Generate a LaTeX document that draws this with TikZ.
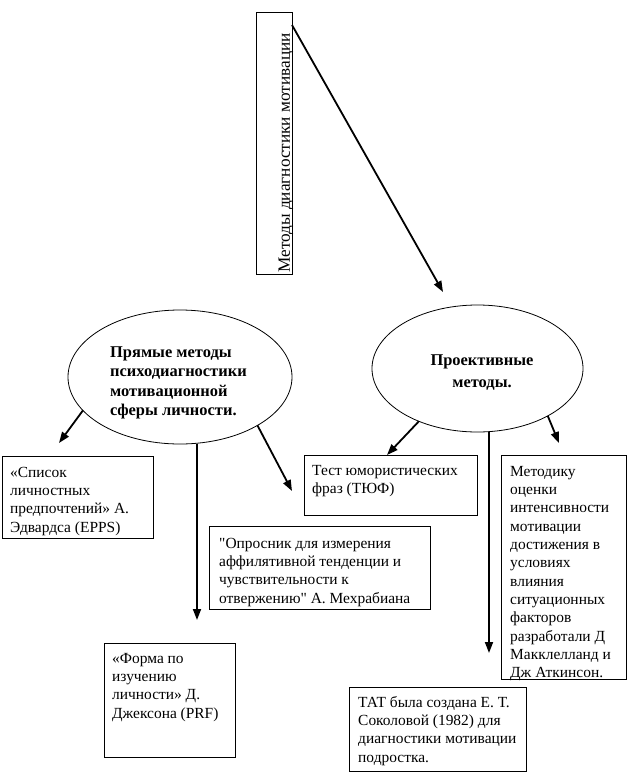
\documentclass[tikz,border=0pt]{standalone}
\usepackage{fontspec}
\setmainfont{Liberation Serif}[Ligatures=TeXOff]
\usetikzlibrary{arrows.meta,shapes.geometric}
\newcommand{\fst}{\rule{0pt}{12bp}}
\begin{document}
\begin{tikzpicture}[x=1bp,y=-1bp,
  frame/.style={draw, line width=0.9bp, anchor=north west, inner sep=0, outer sep=0},
  txt/.style={anchor=north west, inner sep=0, align=left, font=\fontsize{15.5}{18.4}\selectfont},
  btxt/.style={inner sep=0, font=\fontsize{16.5}{19.6}\selectfont\bfseries},
  oval/.style={draw, ellipse, line width=0.8bp, inner sep=0, outer sep=0},
  arr/.style={line width=1.8bp, -{Triangle[length=11bp,width=8bp]}},
]
\useasboundingbox[fill=white] (0,0) rectangle (629,775);

% top box
\node[frame, minimum width=36bp, minimum height=262bp] (T) at (256,12) {};
\node[inner sep=0, rotate=90, font=\fontsize{17.3}{20}\selectfont] (Tt) at (286,153) {Методы диагностики мотивации};

% ellipses
\node[oval, minimum width=224bp, minimum height=134bp] (L) at (180,377) {};
\node[btxt, anchor=north west, align=left] (Lt) at (110,345) {\fst Прямые методы\\психодиагностики\\мотивационной\\сферы личности.};
\node[oval, minimum width=211bp, minimum height=127bp] (R) at (477.5,368.5) {};
\node[btxt, anchor=north, align=center, font=\fontsize{16.5}{22}\selectfont\bfseries] (Rt) at (482,353) {\fst Проективные\\методы.};

% boxes
\node[frame, minimum width=151bp, minimum height=82bp] (b1) at (2,456) {};
\node[txt] at ([shift={(8,9)}]b1.north west) {\fst «Список\\личностных\\предпочтений» А.\\Эдвардса (EPPS)};

\node[frame, minimum width=173bp, minimum height=60bp] (b2) at (304,455) {};
\node[txt] at ([shift={(8,8)}]b2.north west) {\fst Тест юмористических\\фраз (ТЮФ)};

\node[frame, minimum width=221bp, minimum height=83bp] (b3) at (209,526) {};
\node[txt] at ([shift={(10,10)}]b3.north west) {\fst "Опросник для измерения\\аффилятивной тенденции и\\чувствительности к\\отвержению" А. Мехрабиана};

\node[frame, minimum width=125bp, minimum height=224bp] (b4) at (501,455) {};
\node[txt] at ([shift={(9,9)}]b4.north west) {\fst Методику\\оценки\\интенсивности\\мотивации\\достижения в\\условиях\\влияния\\ситуационных\\факторов\\разработали Д\\Макклелланд и\\Дж Аткинсон.};

\node[frame, minimum width=131bp, minimum height=114bp] (b5) at (104,643) {};
\node[txt] at ([shift={(8,8)}]b5.north west) {\fst «Форма по\\изучению\\личности» Д.\\Джексона (PRF)};

\node[frame, minimum width=177bp, minimum height=84bp] (b6) at (349,687) {};
\node[txt] at ([shift={(9,8)}]b6.north west) {\fst ТАТ была создана Е. Т.\\Соколовой (1982) для\\диагностики мотивации\\подростка.};

% arrow end points
\coordinate (m1) at (443,292);
\coordinate (e1) at (59,443);
\coordinate (e2) at (197,620);
\coordinate (e3) at (292,491);
\coordinate (e4) at (387,455);
\coordinate (e5) at (489,653);
\coordinate (e6) at (559,443);

\draw[arr] ([yshift=-13bp]T.north east) -- (m1);
\draw[arr] (L.199.5) -- (e1);
\draw[arr] (e2 |- L.south) -- (e2);
\draw[arr] (L.-32.3) -- (e3);
\draw[arr] (R.-138.6) -- (e4);
\draw[arr] (e5 |- R.south) -- (e5);
\draw[arr] (R.-34.9) -- (e6);
\end{tikzpicture}
\end{document}
